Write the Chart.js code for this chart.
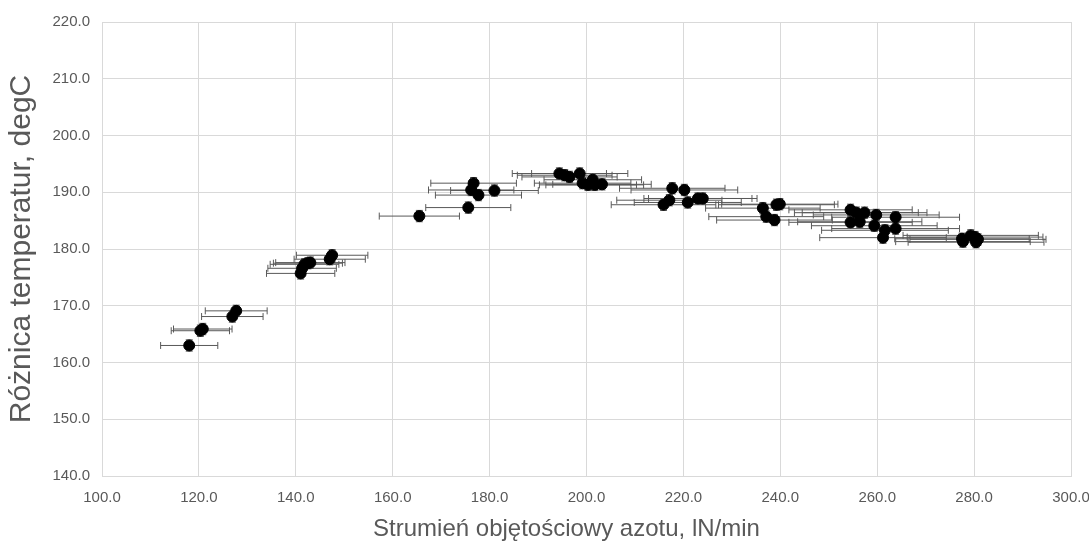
<!DOCTYPE html>
<html>
<head>
<meta charset="utf-8">
<script src="https://cdn.jsdelivr.net/npm/chart.js@4"></script>
<style>
  body { margin: 0; background: #fff; }
  #wykres { display: block; }
</style>
</head>
<body>
<canvas id="wykres" width="1089" height="548"></canvas>
<script>
// Strumień azotu (lN/min)
const przeplyw = [118.0, 120.3, 120.8, 126.9, 127.7, 141.0, 141.3, 141.8, 142.5, 143.0, 147.0, 147.5,
    165.5, 175.6, 176.2, 176.7, 177.7, 181.0, 194.4, 195.5, 196.5, 198.6, 199.2, 200.3, 201.3, 201.7, 203.2,
    215.9, 217.1, 217.7, 220.2, 220.9, 223.0, 224.0, 236.4, 237.1, 238.8, 239.2, 239.9,
    254.5, 255.7, 257.4, 259.8, 263.8, 254.5, 256.4, 259.4, 261.6, 263.8, 261.2,
    277.5, 277.7, 279.3, 280.2, 280.4, 280.8];

// Różnica temperatur (degC)
const roznicaTemp = [163.0, 165.6, 165.9, 168.1, 169.1, 175.7, 176.6, 177.3, 177.5, 177.6, 178.2, 178.9,
    185.8, 187.3, 190.4, 191.6, 189.5, 190.3, 193.3, 193.0, 192.7, 193.3, 191.6, 191.3, 192.2, 191.3, 191.4,
    187.8, 188.6, 190.7, 190.4, 188.2, 188.9, 188.9, 187.2, 185.7, 185.1, 187.8, 187.9,
    186.9, 186.4, 186.4, 186.0, 185.6, 184.7, 184.8, 184.1, 183.3, 183.6, 182.0,
    181.8, 181.3, 182.4, 182.1, 181.2, 181.7];

// Niepewności: 5% przepływu, 1 degC temperatury
const bladPrzeplywu = 0.05;
const bladTemp = 1.0;

const tekstKolor = '#595959';
const siatkaKolor = '#d9d9d9';

// Rysowanie słupków błędów przez skale wykresu
const slupkiBledow = {
    id: 'slupkiBledow',
    beforeDatasetsDraw(chart) {
        const ctx = chart.ctx;
        const sx = chart.scales.x;
        const sy = chart.scales.y;
        const cap = 3.5;
        ctx.save();
        ctx.strokeStyle = '#595959';
        ctx.lineWidth = 1;
        przeplyw.forEach((x, i) => {
            const y = roznicaTemp[i];
            const dx = x * bladPrzeplywu;
            const px = sx.getPixelForValue(x);
            const py = sy.getPixelForValue(y);
            const x1 = sx.getPixelForValue(x - dx);
            const x2 = sx.getPixelForValue(x + dx);
            const y1 = sy.getPixelForValue(y - bladTemp);
            const y2 = sy.getPixelForValue(y + bladTemp);
            ctx.beginPath();
            ctx.moveTo(x1, py); ctx.lineTo(x2, py);
            ctx.moveTo(x1, py - cap); ctx.lineTo(x1, py + cap);
            ctx.moveTo(x2, py - cap); ctx.lineTo(x2, py + cap);
            ctx.moveTo(px, y1); ctx.lineTo(px, y2);
            ctx.moveTo(px - cap, y1); ctx.lineTo(px + cap, y1);
            ctx.moveTo(px - cap, y2); ctx.lineTo(px + cap, y2);
            ctx.stroke();
        });
        ctx.restore();
    }
};

function tworzWykres() {
    const ctx = document.getElementById('wykres').getContext('2d');
    const punkty = przeplyw.map((x, i) => ({ x: x, y: roznicaTemp[i] }));

    new Chart(ctx, {
        type: 'scatter',
        data: {
            datasets: [{
                data: punkty,
                backgroundColor: '#000000',
                borderColor: '#000000',
                pointRadius: 5.5,
                pointHoverRadius: 5.5
            }]
        },
        options: {
            responsive: false,
            animation: false,
            layout: { padding: { top: 22, right: 18, left: 0, bottom: 0 } },
            plugins: {
                legend: { display: false },
                tooltip: { enabled: false }
            },
            scales: {
                x: {
                    type: 'linear',
                    min: 100,
                    max: 300,
                    afterFit: s => {
                        s.height = 72;
                        s.paddingLeft = 0;
                        s.paddingRight = 0;
                    },
                    ticks: {
                        stepSize: 20,
                        color: tekstKolor,
                        font: { family: 'Liberation Sans', size: 15 },
                        padding: 13,
                        callback: v => v.toFixed(1)
                    },
                    grid: { color: siatkaKolor, drawTicks: false },
                    border: { color: siatkaKolor },
                    title: {
                        display: true,
                        // spacje na końcu przesuwają tytuł lekko w lewo
                        text: 'Strumień objętościowy azotu, lN/min\u00a0\u00a0\u00a0\u00a0\u00a0\u00a0',
                        color: tekstKolor,
                        font: { family: 'Liberation Sans', size: 24 },
                        padding: { top: 8 }
                    }
                },
                y: {
                    type: 'linear',
                    min: 140,
                    max: 220,
                    afterFit: s => { s.width = 102; },
                    ticks: {
                        stepSize: 10,
                        color: tekstKolor,
                        font: { family: 'Liberation Sans', size: 15 },
                        padding: 12,
                        callback: v => v.toFixed(1)
                    },
                    grid: { color: siatkaKolor, drawTicks: false },
                    border: { color: siatkaKolor },
                    title: {
                        display: true,
                        text: 'Różnica temperatur, degC',
                        color: tekstKolor,
                        font: { family: 'Liberation Sans', size: 30 },
                        padding: { top: 4, bottom: 2 }
                    }
                }
            }
        },
        plugins: [slupkiBledow]
    });
}

tworzWykres();
</script>
</body>
</html>
